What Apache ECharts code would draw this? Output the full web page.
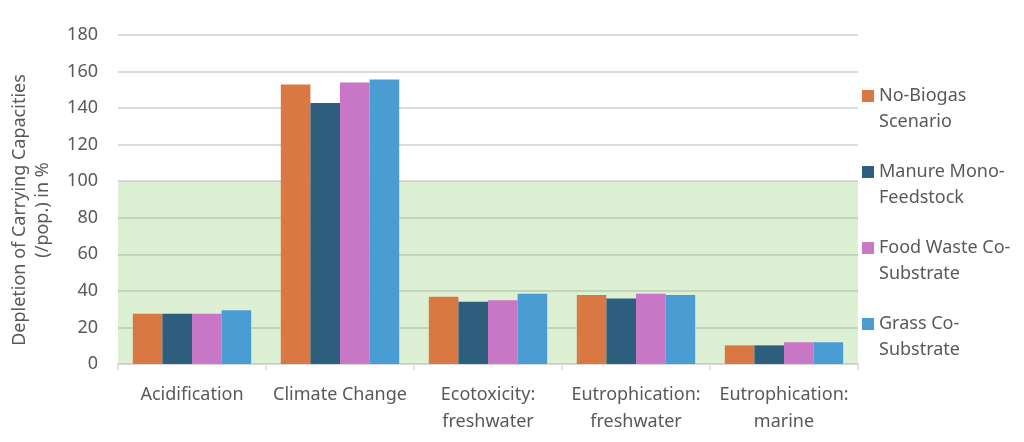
<!DOCTYPE html>
<html><head><meta charset="utf-8">
<script src="https://cdn.jsdelivr.net/npm/echarts@6/dist/echarts.min.js"></script>
<style>html,body{margin:0;padding:0;background:#fff}#c{width:1024px;height:442px}</style>
</head><body><div id="c"></div>
<script>
const categories = ['Acidification', 'Climate Change', 'Ecotoxicity:\nfreshwater', 'Eutrophication:\nfreshwater', 'Eutrophication:\nmarine'];
const seriesNames = ['No-Biogas\nScenario', 'Manure Mono-\nFeedstock', 'Food Waste Co-\nSubstrate', 'Grass Co-\nSubstrate'];
const noBiogas = [27.5, 152.9, 36.8, 37.7, 10.2];
const manureMono = [27.5, 142.8, 34.0, 35.8, 10.2];
const foodWaste = [27.5, 154.0, 34.9, 38.4, 11.9];
const grassCo = [29.4, 155.6, 38.4, 37.7, 11.9];
const yTicks = [0, 20, 40, 60, 80, 100, 120, 140, 160, 180];
const colors = ['#D97842', '#2D5E7E', '#C876C6', '#4A9DD3'];
const seriesData = [noBiogas, manureMono, foodWaste, grassCo];
const font = 'Noto Sans';
const txt = '#595959';
const fs = 18;

const chart = echarts.init(document.getElementById('c'), null, {renderer: 'canvas'});
const series = seriesData.map((d, i) => {
  const s = {
    name: seriesNames[i], type: 'bar', data: d,
    barGap: '0%', barCategoryGap: '20%',
    itemStyle: {color: colors[i]},
    emphasis: {disabled: true}
  };
  if (i === 0) {
    s.markArea = {
      silent: true,
      itemStyle: {color: 'rgba(125,195,80,0.25)'},
      data: [[{yAxis: 0}, {yAxis: 100}]]
    };
  }
  return s;
});
chart.setOption({
  animation: false,
  grid: {left: 118, right: 166, top: 35, bottom: 78, containLabel: false, outerBoundsMode: 'none'},
  legend: {
    orient: 'vertical', left: 857, top: 78,
    itemWidth: 12, itemHeight: 38, itemGap: 24,
    icon: 'path://M0,0L12,0L12,12L0,12Z M0,37.99L0.01,37.99L0.01,38L0,38Z',
    textStyle: {fontFamily: font, fontSize: fs, color: txt, lineHeight: 26},
    data: seriesNames
  },
  xAxis: {
    type: 'category', data: categories,
    axisLine: {lineStyle: {color: '#d9d9d9', width: 1.5}},
    axisTick: {show: true, interval: 0, length: 6, lineStyle: {color: '#d9d9d9', width: 1.5}},
    axisLabel: {fontFamily: font, fontSize: fs, color: txt, lineHeight: 27, margin: 17, interval: 0}
  },
  yAxis: {
    type: 'value', min: 0, max: 180, interval: 20,
    name: 'Depletion of Carrying Capacities\n(/pop.) in %',
    nameLocation: 'middle', nameGap: 64, nameRotate: 90, nameMoveOverlap: false,
    nameTextStyle: {fontFamily: font, fontSize: fs, color: txt, lineHeight: 23, padding: [0, 21, 0, 0]},
    axisLine: {show: false}, axisTick: {show: false},
    axisLabel: {fontFamily: font, fontSize: fs, color: txt, margin: 20,
      formatter: v => yTicks.includes(v) ? String(v) : ''},
    splitLine: {lineStyle: {color: '#d0d0d0', width: 1.5}}
  },
  series: series
});
</script></body></html>
